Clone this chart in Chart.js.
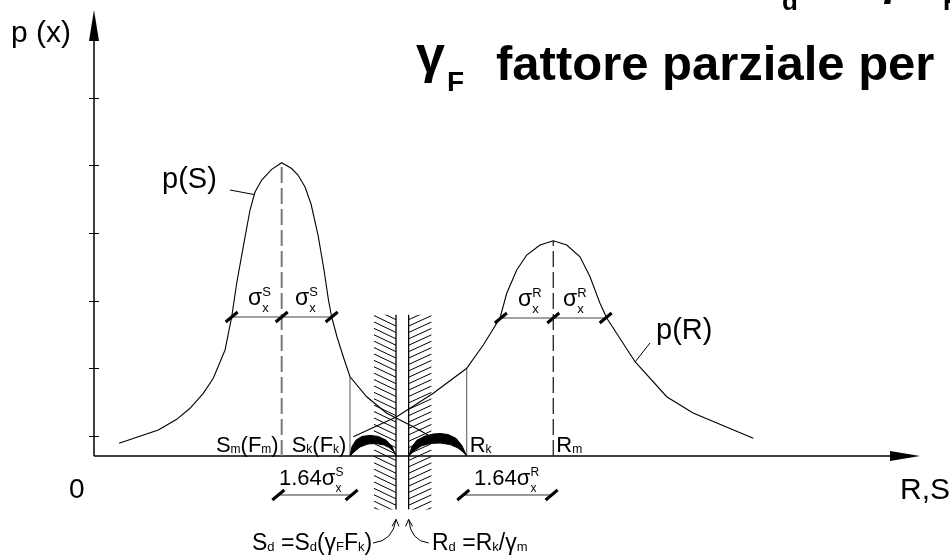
<!DOCTYPE html>
<html>
<head>
<meta charset="utf-8">
<script src="https://cdn.jsdelivr.net/npm/chart.js@4/dist/chart.umd.min.js"></script>
<style>
  html, body { margin: 0; padding: 0; background: #ffffff; }
  #wrap { width: 950px; height: 555px; }
</style>
</head>
<body>
<div id="wrap"><canvas id="c" width="950" height="555"></canvas></div>
<script>
// Density of the load effect S: p(S)
const sCurveX = [3.13, 8.04, 10.34, 12.0, 13.66, 14.91, 16.38, 17.21, 17.84, 18.66, 19.5, 20.13, 20.96, 22.21, 23.46, 24.71, 25.5, 26.38, 27.13, 28.04, 28.75, 29.31, 29.71, 30.38, 31.16, 32.0, 34.09, 36.59, 39.91, 41.75];
const sCurveY = [0.188, 0.385, 0.543, 0.706, 0.928, 1.15, 1.569, 2.057, 2.56, 3.097, 3.64, 3.906, 4.084, 4.242, 4.34, 4.254, 4.158, 3.98, 3.729, 3.245, 2.752, 2.308, 2.057, 1.761, 1.469, 1.173, 0.877, 0.632, 0.434, 0.311];

// Density of the resistance R: p(R)
const rCurveX = [32.41, 37.84, 42.41, 46.59, 48.66, 50.75, 51.59, 52.84, 54.09, 55.75, 57.41, 59.09, 60.75, 62.0, 63.25, 64.09, 67.63, 71.59, 74.88, 82.41];
const rCurveY = [0.286, 0.582, 0.928, 1.298, 1.643, 2.042, 2.408, 2.752, 2.974, 3.122, 3.186, 3.122, 2.949, 2.653, 2.26, 2.042, 1.395, 0.877, 0.636, 0.262];

// Tick marks on the p(x) axis
const yTicks = [0.3, 1.3, 2.3, 3.3, 4.3, 5.3];

// Characteristic quantities of the two distributions
const sMean = 23.46, sSigma = 6.25, sChar = 32.0, sPeak = 4.34, sCharDensity = 1.173, sSigmaLevel = 2.057;
const rMean = 57.41, rSigma = 6.55, rChar = 46.59, rPeak = 3.186, rCharDensity = 1.298, rSigmaLevel = 2.042;

// Design values S_d and R_d (hatched limits)
const sDesign = 37.75, rDesign = 39.33;
const hatchTop = 2.09, hatchBottom = -0.79;

// 1.64 sigma spans below the axis
const spanS = [23.04, 32.2];
const spanR = [46.16, 57.2];
const spanLevel = -0.577;

// Tail areas between characteristic and design values (outer arc, inner arc)
const tailSOuterX = [32.0, 32.25, 32.75, 33.5, 34.5, 35.5, 36.5, 37.25, 37.75];
const tailSOuterY = [0, 0.14, 0.235, 0.29, 0.305, 0.29, 0.235, 0.14, 0];
const tailSInnerX = [32.0, 32.5, 33.25, 34.25, 35.25, 36.25, 37.0, 37.5, 37.75];
const tailSInnerY = [0, 0.059, 0.133, 0.178, 0.185, 0.163, 0.118, 0.059, 0];
const tailROuterX = [39.33, 39.75, 40.38, 41.38, 42.38, 43.25, 44.25, 45.25, 46.0, 46.59];
const tailROuterY = [0, 0.14, 0.235, 0.295, 0.325, 0.333, 0.318, 0.262, 0.152, 0];
const tailRInnerX = [39.33, 40.0, 40.88, 42.0, 43.25, 44.5, 45.5, 46.13, 46.59];
const tailRInnerY = [0, 0.074, 0.148, 0.185, 0.192, 0.17, 0.118, 0.059, 0];

const X_MAX = 103.25, Y_MAX = 6.6;
const FONT = '"Liberation Sans", Arial, Helvetica, sans-serif';

function pts(xs, ys) { return xs.map((x, i) => ({ x: x, y: ys[i] })); }
function closedShape(ox, oy, ix, iy) {
  return pts(ox, oy).concat(pts(ix, iy).reverse());
}

// Text with sub/superscripts. parts: strings, or {sup, sub, dy}
function rich(ctx, x, y, parts, size, weight, measureOnly) {
  let cx = x;
  const w0 = weight ? weight + ' ' : '';
  for (const p of parts) {
    if (typeof p === 'string') {
      ctx.font = w0 + size + 'px ' + FONT;
      if (!measureOnly) ctx.fillText(p, cx, y);
      cx += ctx.measureText(p).width;
    } else {
      const s = Math.round(size * (p.scale || 0.56));
      ctx.font = w0 + s + 'px ' + FONT;
      let w = 0;
      if (p.sup) {
        if (!measureOnly) ctx.fillText(p.sup, cx, y - size * 0.4);
        w = Math.max(w, ctx.measureText(p.sup).width);
      }
      if (p.sub) {
        if (!measureOnly) ctx.fillText(p.sub, cx, y + size * (p.dy !== undefined ? p.dy : 0.08));
        w = Math.max(w, ctx.measureText(p.sub).width);
      }
      cx += w + (p.gap || 0);
    }
  }
  return cx - x;
}
function richRight(ctx, xr, y, parts, size, weight) {
  const w = rich(ctx, 0, 0, parts, size, weight, true);
  rich(ctx, xr - w, y, parts, size, weight);
}

function line(ctx, x1, y1, x2, y2) {
  ctx.beginPath(); ctx.moveTo(x1, y1); ctx.lineTo(x2, y2); ctx.stroke();
}
function slash(ctx, cx, cy) {
  ctx.save();
  ctx.lineWidth = 3; ctx.strokeStyle = '#000'; ctx.lineCap = 'butt';
  line(ctx, cx - 6, cy + 5, cx + 6, cy - 5);
  ctx.restore();
}

const axesPlugin = {
  id: 'axesArrows',
  beforeDatasetsDraw(chart) {
    const ctx = chart.ctx, xs = chart.scales.x, ys = chart.scales.y;
    const x0 = xs.getPixelForValue(0), y0 = ys.getPixelForValue(0);
    const xTip = xs.getPixelForValue(X_MAX), yTip = ys.getPixelForValue(Y_MAX);
    ctx.save();
    ctx.strokeStyle = '#000'; ctx.fillStyle = '#000'; ctx.lineWidth = 1.5;
    line(ctx, x0, y0, x0, yTip + 28);
    line(ctx, x0, y0, xTip - 28, y0);
    ctx.beginPath(); ctx.moveTo(x0, yTip); ctx.lineTo(x0 - 5, yTip + 31); ctx.lineTo(x0 + 5, yTip + 31); ctx.closePath(); ctx.fill();
    ctx.beginPath(); ctx.moveTo(xTip, y0); ctx.lineTo(xTip - 30, y0 - 5); ctx.lineTo(xTip - 30, y0 + 5); ctx.closePath(); ctx.fill();
    ctx.lineWidth = 1;
    for (const t of yTicks) {
      const yy = Math.round(ys.getPixelForValue(t)) + 0.5;
      line(ctx, x0 - 5, yy, x0 + 5, yy);
    }
    ctx.restore();
  }
};

const notesPlugin = {
  id: 'notes',
  afterDatasetsDraw(chart) {
    const ctx = chart.ctx, xs = chart.scales.x, ys = chart.scales.y;
    const X = v => xs.getPixelForValue(v), Y = v => ys.getPixelForValue(v);
    ctx.save();
    ctx.fillStyle = '#000'; ctx.strokeStyle = '#000';
    ctx.textBaseline = 'alphabetic'; ctx.textAlign = 'left';

    // hatched design limits
    const hT = Y(hatchTop), hB = Y(hatchBottom);
    const wl = X(sDesign), wr = X(rDesign);
    ctx.lineWidth = 1.3;
    line(ctx, wl, hT, wl, hB);
    line(ctx, wr, hT, wr, hB);
    ctx.lineWidth = 1;
    ctx.save();
    ctx.beginPath(); ctx.rect(wl - 22, hT, 22, hB - hT); ctx.clip();
    for (let y = hT - 12; y < hB + 12; y += 6.4) line(ctx, wl - 22, y, wl, y + 10.5);
    ctx.restore();
    ctx.save();
    ctx.beginPath(); ctx.rect(wr, hT, 23, hB - hT); ctx.clip();
    for (let y = hT - 12; y < hB + 12; y += 6.4) line(ctx, wr, y + 10.5, wr + 23, y);
    ctx.restore();

    // slashes on the sigma spans
    slash(ctx, X(sMean - sSigma), Y(sSigmaLevel));
    slash(ctx, X(sMean), Y(sSigmaLevel));
    slash(ctx, X(sMean + sSigma), Y(sSigmaLevel));
    slash(ctx, X(rMean - rSigma), Y(rSigmaLevel));
    slash(ctx, X(rMean), Y(rSigmaLevel));
    slash(ctx, X(rMean + rSigma), Y(rSigmaLevel));

    // 1.64 sigma dimension lines
    const dl = Y(spanLevel);
    ctx.lineWidth = 1; ctx.strokeStyle = '#333';
    line(ctx, X(spanS[0]), dl, X(spanS[1]), dl);
    line(ctx, X(spanR[0]), dl, X(spanR[1]), dl);
    ctx.strokeStyle = '#000';
    slash(ctx, X(spanS[0]), dl); slash(ctx, X(spanS[1]), dl);
    slash(ctx, X(spanR[0]), dl); slash(ctx, X(spanR[1]), dl);

    // leader lines of the curve labels
    ctx.lineWidth = 1;
    line(ctx, 230, 190, 254, 194.5);
    line(ctx, 635, 362, 650, 343);

    // curved arrows to the design values
    const aTipY = Y(hatchBottom) + 10;
    ctx.lineWidth = 1;
    ctx.beginPath(); ctx.moveTo(wl - 23, 543); ctx.quadraticCurveTo(wl - 3, 541, wl, aTipY); ctx.stroke();
    ctx.beginPath(); ctx.moveTo(wr + 20, 543); ctx.quadraticCurveTo(wr + 2, 541, wr, aTipY); ctx.stroke();
    ctx.beginPath(); ctx.moveTo(wl - 4, aTipY + 7); ctx.lineTo(wl, aTipY); ctx.lineTo(wl + 3, aTipY + 7); ctx.stroke();
    ctx.beginPath(); ctx.moveTo(wr - 3, aTipY + 7); ctx.lineTo(wr, aTipY); ctx.lineTo(wr + 4, aTipY + 7); ctx.stroke();

    // axis labels
    ctx.font = '30px ' + FONT;
    ctx.fillText('p (x)', 11, 42);
    ctx.font = '28px ' + FONT;
    ctx.fillText('0', 69, 498);
    ctx.font = '30px ' + FONT;
    ctx.fillText('R,S', 900, 499);

    // curve labels
    ctx.font = '29px ' + FONT;
    ctx.fillText('p(S)', 162, 188);
    ctx.fillText('p(R)', 656, 339);

    // sigma labels
    const sig = (x, lvl, lab) => rich(ctx, x, Y(lvl) - 12, ['σ', { sup: lab, sub: 'x', dy: 0.3 }], 23);
    sig(248, sSigmaLevel, 'S');
    sig(295, sSigmaLevel, 'S');
    sig(518, rSigmaLevel, 'R');
    sig(563, rSigmaLevel, 'R');

    // labels on the axis
    const base = Y(0) - 4.5;
    richRight(ctx, X(sMean) - 3, base, ['S', { sub: 'm', dy: 0.05 }, '(F', { sub: 'm', dy: 0.05 }, ')'], 22);
    rich(ctx, X(sMean) + 10, base, ['S', { sub: 'k', dy: 0.05 }, '(F', { sub: 'k', dy: 0.05 }, ')'], 22);
    rich(ctx, X(rChar) + 3, base, ['R', { sub: 'k', dy: 0.05 }], 22);
    rich(ctx, X(rMean) + 3, base, ['R', { sub: 'm', dy: 0.05 }], 22);

    // 1.64 sigma labels
    rich(ctx, 279, 485, ['1.64σ', { sup: 'S', sub: 'x', dy: 0.3 }], 22);
    rich(ctx, 474, 485, ['1.64σ', { sup: 'R', sub: 'x', dy: 0.3 }], 22);

    // design value formulas
    rich(ctx, 252, 550, ['S', { sub: 'd', dy: 0.05 }, ' =S', { sub: 'd', dy: 0.05 }, '(γ', { sub: 'F', dy: 0.05 }, 'F', { sub: 'k', dy: 0.05 }, ')'], 23);
    rich(ctx, 432, 550, ['R', { sub: 'd', dy: 0.05 }, ' =R', { sub: 'k', dy: 0.05 }, '/γ', { sub: 'm', dy: 0.05 }], 23);

    // heading
    ctx.font = 'bold 52px ' + FONT;
    ctx.fillText('γ', 416, 72);
    ctx.font = 'bold 28px ' + FONT;
    ctx.fillText('F', 447, 91);
    ctx.font = 'bold 49px ' + FONT;
    ctx.fillText('fattore parziale per', 496, 80);
    ctx.font = 'bold 26px ' + FONT;
    ctx.fillText('d', 782, 10);
    ctx.font = 'bold 44px ' + FONT;
    ctx.fillText('γ', 877, -5);
    ctx.font = 'bold 26px ' + FONT;
    ctx.fillText('F', 943, 10);

    ctx.restore();
  }
};

const thin = { pointRadius: 0, pointHoverRadius: 0, fill: false, tension: 0, clip: false };

new Chart(document.getElementById('c'), {
  type: 'line',
  data: {
    datasets: [
      Object.assign({ label: 'p(S)', data: pts(sCurveX, sCurveY), borderColor: '#000', borderWidth: 1.1 }, thin),
      Object.assign({ label: 'p(R)', data: pts(rCurveX, rCurveY), borderColor: '#000', borderWidth: 1.1 }, thin),
      Object.assign({}, thin, { label: 'P(S>S_d)', data: closedShape(tailSOuterX, tailSOuterY, tailSInnerX, tailSInnerY), borderColor: '#000', borderWidth: 1, backgroundColor: '#000', fill: 'shape' }),
      Object.assign({}, thin, { label: 'P(R<R_d)', data: closedShape(tailROuterX, tailROuterY, tailRInnerX, tailRInnerY), borderColor: '#000', borderWidth: 1, backgroundColor: '#000', fill: 'shape' }),
      Object.assign({ label: 'S_m', data: [{ x: sMean, y: 0 }, { x: sMean, y: sPeak }], borderColor: '#7a7a7a', borderWidth: 2, borderDash: [16, 5] }, thin),
      Object.assign({ label: 'R_m', data: [{ x: rMean, y: 0 }, { x: rMean, y: rPeak }], borderColor: '#222', borderWidth: 1.3, borderDash: [16, 5] }, thin),
      Object.assign({ label: 'S_k', data: [{ x: sChar, y: 0 }, { x: sChar, y: sCharDensity }], borderColor: '#555', borderWidth: 1 }, thin),
      Object.assign({ label: 'R_k', data: [{ x: rChar, y: 0 }, { x: rChar, y: rCharDensity }], borderColor: '#555', borderWidth: 1 }, thin),
      Object.assign({ label: 'sigma S', data: [{ x: sMean - sSigma, y: sSigmaLevel }, { x: sMean + sSigma, y: sSigmaLevel }], borderColor: '#444', borderWidth: 1 }, thin),
      Object.assign({ label: 'sigma R', data: [{ x: rMean - rSigma, y: rSigmaLevel }, { x: rMean + rSigma, y: rSigmaLevel }], borderColor: '#444', borderWidth: 1 }, thin)
    ]
  },
  options: {
    responsive: false,
    animation: false,
    devicePixelRatio: 1,
    events: [],
    layout: { padding: { left: 94, right: 30, top: 10, bottom: 99 } },
    scales: {
      x: { type: 'linear', min: 0, max: X_MAX, display: false },
      y: { type: 'linear', min: 0, max: Y_MAX, display: false }
    },
    plugins: { legend: { display: false }, tooltip: { enabled: false }, title: { display: false } }
  },
  plugins: [axesPlugin, notesPlugin]
});
</script>
</body>
</html>
